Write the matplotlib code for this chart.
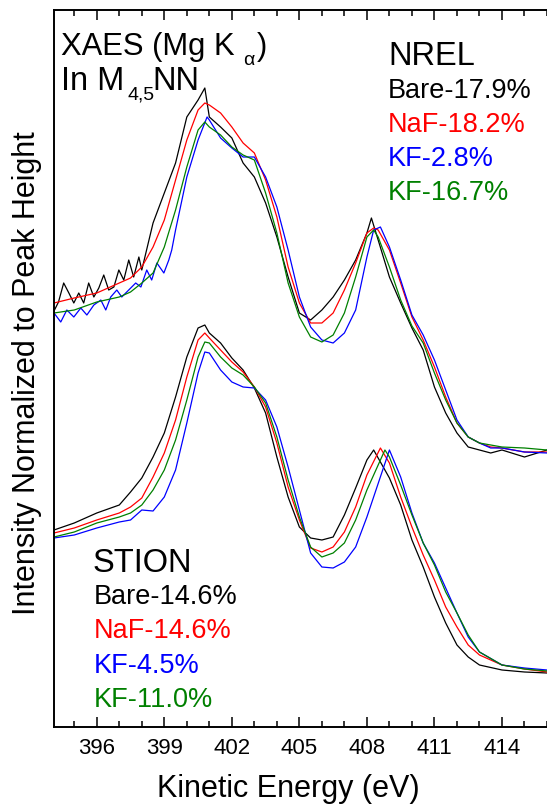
import numpy as np
import matplotlib
matplotlib.use("Agg")
import matplotlib.pyplot as plt
from matplotlib.ticker import MultipleLocator

plt.rcParams['font.family'] = ['Liberation Sans', 'DejaVu Sans']

# In M4,5NN XAES spectra, intensity in arb. units (offset stacks)
# NREL set (upper stack)
nrel_bare_e = [394.1, 394.3, 394.53, 394.76, 394.98, 395.2, 395.42, 395.64, 395.87, 396.09,
               396.31, 396.53, 396.76, 396.98, 397.2, 397.42, 397.64, 397.87, 398.0, 398.5,
               399, 399.5, 400, 400.5, 400.8, 401, 401.5, 402, 402.5, 403, 403.5, 404, 404.5,
               405, 405.5, 406, 406.5, 407, 407.5, 408, 408.2, 408.5, 409, 409.5, 410, 410.5,
               411, 411.5, 412, 412.5, 413, 413.5, 414, 415, 416]
nrel_bare_i = [416, 425, 444, 434, 424, 434, 424, 444, 430, 439,
               452, 437, 440, 457, 447, 467, 450, 470, 457, 504,
               534, 564, 610, 627, 639, 610, 600, 589, 564, 550, 524, 490, 450,
               414, 407, 417, 430, 447, 467, 494, 509, 487, 450, 424, 399, 377,
               340, 314, 294, 280, 277, 274, 277, 270, 277]

nrel_kf28_e = [394.1, 394.4, 394.67, 394.98, 395.29, 395.56, 395.87, 396.18, 396.4, 396.62,
               396.89, 397.11, 397.42, 397.73, 397.96, 398.22, 398.44, 398.67, 398.98, 399.2,
               399.33, 399.5, 400, 400.5, 400.9, 401, 401.5, 402, 402.5, 403, 403.5, 404,
               404.5, 405, 405.5, 406, 406.5, 407, 407.5, 408, 408.3, 408.6, 409, 409.5, 410,
               410.5, 411, 411.5, 412, 412.5, 413, 413.5, 414, 415, 416]
nrel_kf28_i = [414, 405, 417, 410, 419, 412, 422, 427, 417, 430,
               437, 430, 437, 444, 440, 457, 447, 464, 454, 467,
               477, 497, 550, 587, 610, 607, 589, 579, 570, 570, 550, 520,
               477, 430, 400, 387, 384, 394, 417, 470, 497, 500, 480, 447, 412,
               392, 367, 337, 307, 290, 284, 279, 279, 275, 274]

nrel_e = [394.1, 395, 396, 397, 397.5, 398, 398.5, 399, 399.5, 400, 400.5, 400.8, 401, 401.5,
          402, 402.5, 403, 403.5, 404, 404.5, 405, 405.5, 406, 406.5, 407, 407.5, 408, 408.3,
          408.5, 409, 409.5, 410, 410.5, 411, 411.5, 412, 412.5, 413, 413.5, 414, 415, 416]
nrel_naf_i = [424, 429, 434, 444, 449, 460, 480, 507, 547, 587, 617, 624, 622, 614,
              600, 584, 574, 547, 510, 460, 424, 404, 404, 414, 437, 464, 494, 499,
              497, 477, 444, 410, 387, 360, 330, 304, 290, 284, 280, 279, 275, 275]
nrel_kf167_i = [414, 417, 425, 430, 435, 444, 454, 480, 517, 560, 597, 605, 600, 592,
                580, 572, 567, 534, 494, 444, 410, 390, 385, 392, 414, 450, 490, 497,
                490, 460, 427, 401, 384, 354, 327, 304, 290, 284, 282, 280, 279, 277]

# STION set (lower stack)
stion_e = [394.1, 395, 396, 397, 397.5, 398, 398.5, 399, 399.5, 400, 400.5, 400.8, 401, 401.5,
           402, 402.5, 403, 403.5, 404, 404.5, 405, 405.5, 406, 406.5, 407, 407.5, 408]
stion_bare_i = [197, 204, 214, 222, 235, 249, 270, 294, 330, 370, 399, 402, 394, 384,
                369, 357, 339, 314, 270, 230, 200, 189, 187, 190, 212, 239, 267]
stion_naf_i = [194, 199, 207, 214, 220, 229, 250, 274, 307, 350, 387, 394, 389, 377,
               365, 355, 340, 320, 284, 240, 207, 179, 175, 180, 195, 220, 252]
stion_kf45_i = [189, 192, 199, 205, 207, 217, 216, 230, 257, 304, 354, 375, 374, 357,
                345, 340, 339, 327, 300, 260, 217, 174, 160, 159, 165, 180, 210]
stion_kf110_i = [190, 195, 204, 210, 214, 222, 237, 257, 287, 327, 370, 385, 384, 370,
                 359, 352, 340, 324, 290, 247, 210, 180, 170, 174, 184, 207, 237]

tail_e = [409, 409.5, 410, 410.5, 411, 411.5, 412, 412.5, 413, 414, 415, 416]
stion_bare_peak = (408.3, 277)
stion_naf_peak = (408.6, 279)
stion_kf45_peak = (409.0, 277)
stion_kf110_peak = (408.8, 277)
stion_bare_tail = [249, 222, 187, 160, 130, 104, 82, 70, 62, 57, 55, 54]
stion_naf_tail = [264, 230, 200, 172, 147, 120, 100, 82, 72, 62, 58, 55]
stion_kf45_tail = [277, 250, 214, 184, 164, 139, 114, 90, 75, 62, 59, 57]
stion_kf110_tail = [270, 242, 212, 184, 162, 135, 114, 92, 75, 62, 58, 56]

nrel_labels = ['Bare-17.9%', 'NaF-18.2%', 'KF-2.8%', 'KF-16.7%']
stion_labels = ['Bare-14.6%', 'NaF-14.6%', 'KF-4.5%', 'KF-11.0%']
colors = ['black', 'red', 'blue', 'green']

W, H = 547, 805
fig = plt.figure(figsize=(W / 100, H / 100), dpi=100)
ax = fig.add_axes([54 / W, (H - 727) / H, 493 / W, 717 / H])


def stion_curve(body, peak, tail):
    e = list(stion_e) + [peak[0]] + list(tail_e)
    i = list(body) + [peak[1]] + list(tail)
    order = np.argsort(e)
    return np.array(e)[order], np.array(i)[order]


lw = 0.9
ax.plot(nrel_bare_e, nrel_bare_i, color='black', lw=lw)
ax.plot(nrel_e, nrel_naf_i, color='red', lw=lw)
ax.plot(nrel_kf28_e, nrel_kf28_i, color='blue', lw=lw)
ax.plot(nrel_e, nrel_kf167_i, color='green', lw=lw)

for body, peak, tail, c in [(stion_bare_i, stion_bare_peak, stion_bare_tail, 'black'),
                            (stion_naf_i, stion_naf_peak, stion_naf_tail, 'red'),
                            (stion_kf45_i, stion_kf45_peak, stion_kf45_tail, 'blue'),
                            (stion_kf110_i, stion_kf110_peak, stion_kf110_tail, 'green')]:
    e, i = stion_curve(body, peak, tail)
    ax.plot(e, i, color=c, lw=lw)

ax.set_xlim(394.1, 416)
ax.set_ylim(0, 717)
ax.xaxis.set_major_locator(MultipleLocator(3))
ax.xaxis.set_minor_locator(MultipleLocator(1))
ax.set_yticks([])
ax.tick_params(axis='x', which='both', direction='in', top=True, bottom=True,
               width=1.1, labelsize=16, pad=8)
ax.tick_params(axis='x', which='major', length=7.5)
ax.tick_params(axis='x', which='minor', length=4)
ax.spines['right'].set_visible(False)
for s in ['left', 'top', 'bottom']:
    ax.spines[s].set_linewidth(1.4)


def at(px, py):
    return ((px - 54) / 493, (727 - py) / 717)


kw = dict(transform=ax.transAxes, va='baseline', ha='left')
big = 23.5
small = 19.5

# pieces with manual subscripts, positioned in pixel coordinates
ax.text(*at(61, 55), 'XAES (Mg K', fontsize=22.3, **kw)
ax.text(*at(243, 65), '\u03b1', fontsize=14, **kw)
ax.text(*at(257, 55), ')', fontsize=22.3, **kw)
ax.text(*at(61, 90), 'In M', fontsize=big, **kw)
ax.text(*at(128, 99), '4,5', fontsize=14, **kw)
ax.text(*at(152, 90), 'NN', fontsize=big, **kw)

ax.text(*at(388, 65), 'NREL', fontsize=big, **kw)
for k, (lab, c) in enumerate(zip(nrel_labels, colors)):
    ax.text(*at(388, 98 + 34 * k), lab, fontsize=small, color=c, **kw)

ax.text(*at(93, 572), 'STION', fontsize=big, **kw)
for k, (lab, c) in enumerate(zip(stion_labels, colors)):
    ax.text(*at(94, 604 + 34.3 * k), lab, fontsize=small, color=c, **kw)

fig.text(288 / W, (H - 797) / H, 'Kinetic Energy (eV)', fontsize=22,
         ha='center', va='baseline')
fig.text(27 / W, (H - 373) / H, 'Intensity Normalized to Peak Height', fontsize=22,
         rotation=90, ha='center', va='center')

fig.savefig('out.png', dpi=100)
